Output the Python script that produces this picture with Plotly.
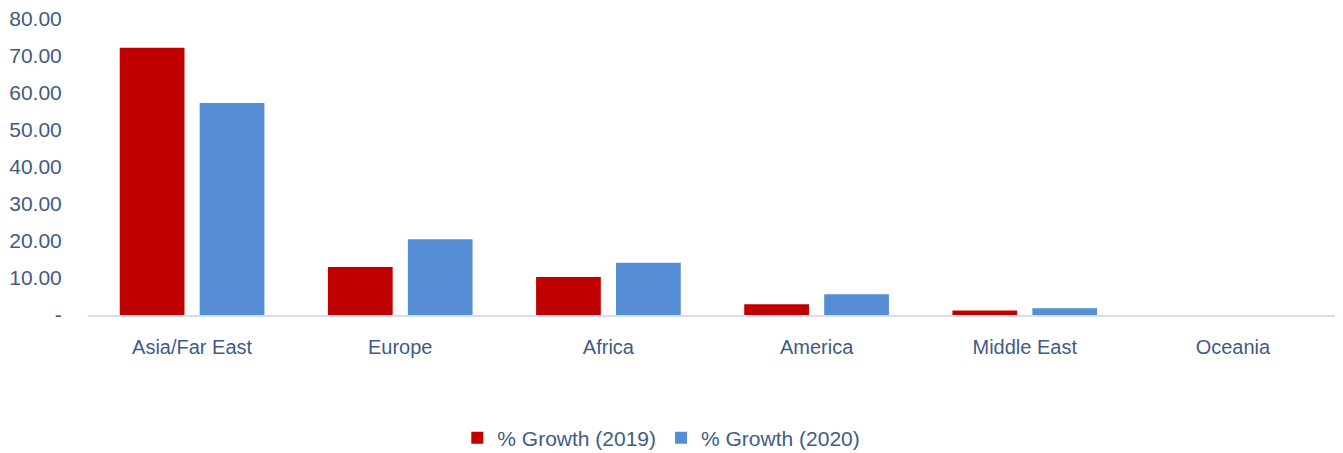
import plotly.graph_objects as go

categories = ["Asia/Far East", "Europe", "Africa", "America", "Middle East", "Oceania"]
growth_2019 = [72.2, 13.0, 10.3, 2.9, 1.2, 0.0]
growth_2020 = [57.3, 20.5, 14.1, 5.6, 1.8, 0.0]
y_tickvals = [0, 10, 20, 30, 40, 50, 60, 70, 80]
y_ticktext = ["-", "10.00", "20.00", "30.00", "40.00", "50.00", "60.00", "70.00", "80.00"]

text_color = "#3F5B86"
font_family = "Liberation Sans, Arial, sans-serif"

fig = go.Figure()
fig.add_trace(go.Bar(x=categories, y=growth_2019, name="% Growth (2019)",
                     marker=dict(color="#C00000", line=dict(width=0))))
fig.add_trace(go.Bar(x=categories, y=growth_2020, name="% Growth (2020)",
                     marker=dict(color="#558ED5", line=dict(width=0))))

fig.update_layout(
    width=1335, height=453,
    margin=dict(l=80, r=6, t=11, b=146),
    paper_bgcolor="white", plot_bgcolor="white",
    barmode="group", bargap=0.232, bargroupgap=0.19,
    font=dict(family=font_family, size=20, color=text_color),
    showlegend=True,
    legend=dict(orientation="h", x=0.459, xanchor="center",
                yref="container", y=0.0508, yanchor="middle",
                font=dict(size=21, color=text_color), itemwidth=30,
                traceorder="normal"),
    xaxis=dict(showgrid=False, showline=True, linecolor="#D5DEEF", linewidth=1.5,
               automargin=False,
               ticks="outside", ticklen=13, tickcolor="rgba(0,0,0,0)",
               tickfont=dict(size=20, color=text_color)),
    yaxis=dict(range=[0, 80], showgrid=False, zeroline=False, showline=False,
               automargin=False, ticklabeloverflow="allow",
               tickvals=y_tickvals, ticktext=y_ticktext,
               ticks="outside", ticklen=21, tickcolor="rgba(0,0,0,0)",
               tickfont=dict(size=21, color=text_color)),
)

fig.write_html("out.html")
